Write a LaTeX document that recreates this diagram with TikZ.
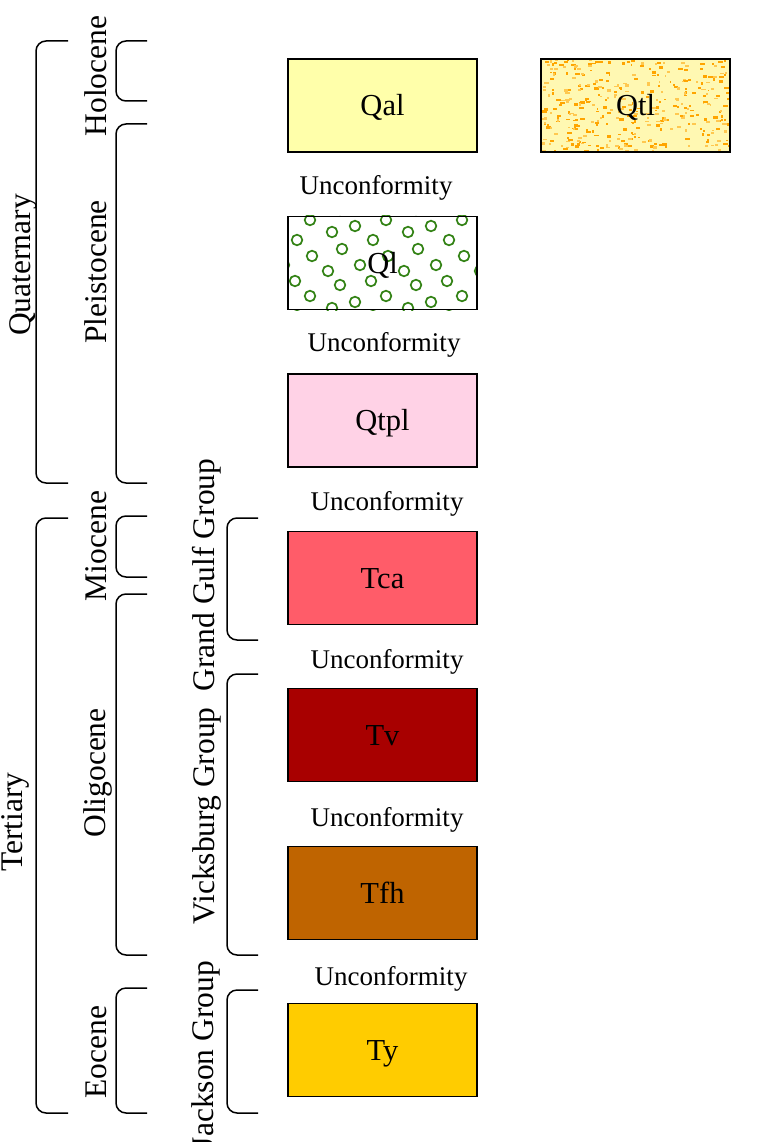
\documentclass[tikz,border=0pt]{standalone}
\usepackage{fontspec}
\setmainfont{Liberation Serif}
\usetikzlibrary{backgrounds}
\definecolor{qalc}{RGB}{255,255,170}
\definecolor{qtlbg}{RGB}{255,248,178}
\definecolor{speckA}{RGB}{255,165,0}
\definecolor{speckB}{RGB}{255,200,80}
\definecolor{circc}{RGB}{50,130,20}
\definecolor{qtplc}{RGB}{255,210,230}
\definecolor{tcac}{RGB}{255,92,105}
\definecolor{tvc}{RGB}{168,0,0}
\definecolor{tfhc}{RGB}{191,100,0}
\definecolor{tyc}{RGB}{255,204,0}
\begin{document}
\begin{tikzpicture}[x=1pt,y=-1pt,
  box/.style={draw=black, line width=1.3pt, minimum width=189pt, minimum height=93pt,
    inner sep=0pt, font=\fontsize{30.5}{36}\selectfont, text height=20.5pt, text depth=0pt},
  unc/.style={font=\fontsize{27}{32}\selectfont, anchor=base, inner sep=0pt},
  era/.style={font=\fontsize{31.5}{38}\selectfont, rotate=90, anchor=base, inner sep=0pt},
  brk/.style={draw=black, line width=1.5pt, rounded corners=10pt},
  circ/.style={draw=circc, line width=1.7pt},
]
\useasboundingbox (0,0) rectangle (783,1142);
\begin{pgfonlayer}{background}
  \fill[white] (0,0) rectangle (783,1142);
\end{pgfonlayer}

% brackets
\draw[brk] (68,41) -- (36,41) -- (36,483) -- (68,483);
\draw[brk] (68,518) -- (36,518) -- (36,1113) -- (68,1113);
\draw[brk] (147,41) -- (116,41) -- (116,101) -- (147,101);
\draw[brk] (147,124) -- (116,124) -- (116,483) -- (147,483);
\draw[brk] (147,516) -- (116,516) -- (116,577) -- (147,577);
\draw[brk] (147,594) -- (116,594) -- (116,955) -- (147,955);
\draw[brk] (147,988) -- (116,988) -- (116,1113) -- (147,1113);
\draw[brk] (258,518) -- (227,518) -- (227,640) -- (258,640);
\draw[brk] (258,674) -- (227,674) -- (227,955) -- (258,955);
\draw[brk] (258,990) -- (227,990) -- (227,1113) -- (258,1113);

% bracket labels
\node[era] (quat) at (30,265) {Quaternary};
\node[era] (tert) at (22,822) {Tertiary};
\node[era] (holo) at (106,76) {Holocene};
\node[era] (pleis) at (106,272) {Pleistocene};
\node[era] (mio) at (106,546) {Miocene};
\node[era] (oligo) at (105,773) {Oligocene};
\node[era] (eoc) at (106,1052) {Eocene};
\node[era] (gg) at (214,575) {Grand Gulf Group};
\node[era] (vg) at (214,816) {Vicksburg Group};
\node[era] (jg) at (213,1055) {Jackson Group};

% boxes
\node[box, fill=qalc] (qal) at (382.5,105.5) {Qal};
\node[box] (qtl) at (635.5,105.5) {Qtl};
\node[box] (ql) at (382.5,263) {Ql};
\node[box, fill=qtplc] (qtpl) at (382.5,420.5) {Qtpl};
\node[box, fill=tcac] (tca) at (382.5,578) {Tca};
\node[box, fill=tvc] (tv) at (382.5,735) {Tv};
\node[box, fill=tfhc] (tfh) at (382.5,893) {Tfh};
\node[box, fill=tyc] (ty) at (382.5,1050) {Ty};

% patterns
\begin{pgfonlayer}{background}
  \begin{scope}
    \clip (qtl.north west) rectangle (qtl.south east);
    \fill[qtlbg] (qtl.north west) rectangle (qtl.south east);
    \pgfmathsetseed{4242}
    \foreach \i in {1,...,230}{
      \pgfmathsetmacro\rx{541+189*rnd}
      \pgfmathsetmacro\ry{59+93*rnd}
      \pgfmathsetmacro\rw{1.5+3.5*rnd}
      \pgfmathsetmacro\rh{1.5+1.2*rnd}
      \fill[speckA] (\rx,\ry) rectangle ++(\rw,\rh);
    }
    \foreach \i in {1,...,170}{
      \pgfmathsetmacro\rx{541+189*rnd}
      \pgfmathsetmacro\ry{59+93*rnd}
      \pgfmathsetmacro\rw{1.5+3*rnd}
      \pgfmathsetmacro\rh{1.5+1*rnd}
      \fill[speckB] (\rx,\ry) rectangle ++(\rw,\rh);
    }
  \end{scope}
  \begin{scope}
    \clip (ql.north west) rectangle (ql.south east);
    \fill[white] (ql.north west) rectangle (ql.south east);
    \foreach \tx in {-1,0,1,2}{
      \foreach \ty in {-1,0,1}{
        \foreach \cx/\cy in {0/0,45/6,63/20,22/12,2/36,32/29,50/45,18/51,61/61,30/65}{
          \draw[circ] (310+76*\tx+\cx, 220+76*\ty+\cy) circle (5.3pt);
        }
      }
    }
  \end{scope}
\end{pgfonlayer}

% unconformity labels
\node[unc] (u1) at (376,194) {Unconformity};
\node[unc] (u2) at (384,351) {Unconformity};
\node[unc] (u3) at (387,510) {Unconformity};
\node[unc] (u4) at (387,668) {Unconformity};
\node[unc] (u5) at (387,826) {Unconformity};
\node[unc] (u6) at (391,985) {Unconformity};
\end{tikzpicture}
\end{document}
